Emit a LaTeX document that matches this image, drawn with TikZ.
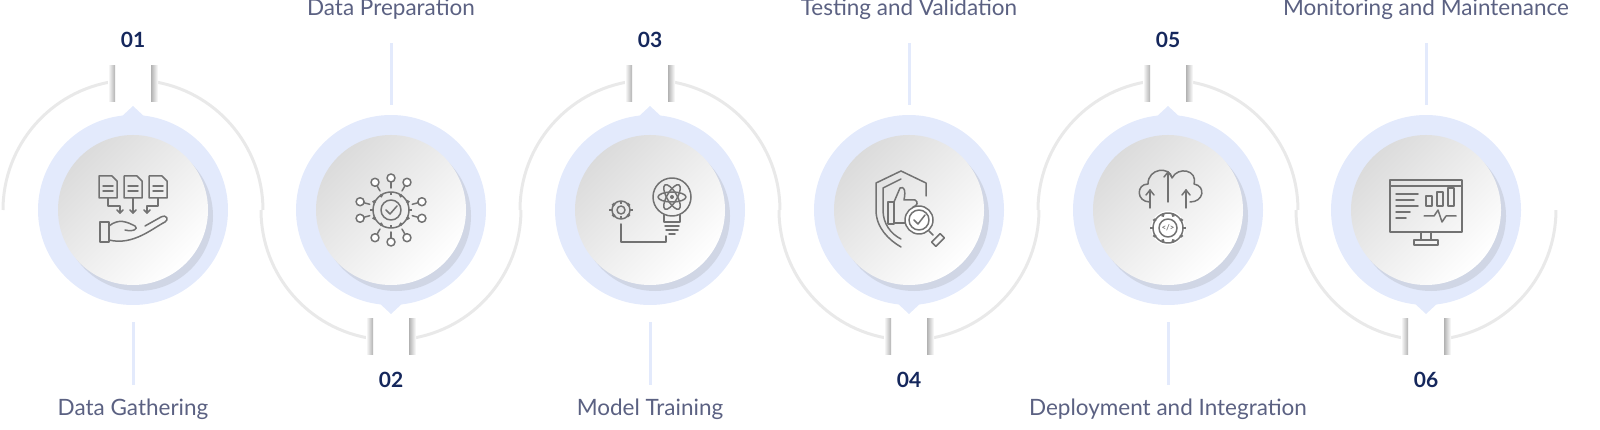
\documentclass[tikz,border=0pt]{standalone}
\usepackage{fontspec}
\setmainfont{Lato}
\usetikzlibrary{shadows}
\definecolor{ring}{HTML}{E3EAFC}
\definecolor{trk}{HTML}{E9E9E9}
\definecolor{navy}{HTML}{15275C}
\definecolor{lbl}{HTML}{5B6182}
\definecolor{ic}{HTML}{727272}
\tikzset{
  track/.style={draw=trk, line width=3pt},
  halo/.style={circle, fill=ring, minimum size=190pt, inner sep=0pt},
  disc/.style={circle, minimum size=150pt, inner sep=0pt, top color=gray!28, bottom color=white, shading angle=45,
     drop shadow={shadow xshift=5pt, shadow yshift=-6pt, opacity=0.15, fill=black!60}},
  stem/.style={draw=ring, line width=3pt},
  num/.style={font=\fontsize{21}{22}\selectfont\bfseries, text=navy},
  lab/.style={font=\fontsize{22.5}{24}\selectfont, text=lbl},
  icn/.style={draw=ic, line width=1.5pt, line cap=round, line join=round},
  edgeL/.style={left color=white, right color=black!30},
  edgeR/.style={left color=black!30, right color=white},
}
\newcommand{\gearshape}[3]{% center, radius, teeth
  \draw[icn] #1 circle (#2);
  \foreach \a in {0,...,#3}{\draw[icn, line width=2.6pt, line cap=butt] #1 ++({\a*360/#3}:#2) -- ++({\a*360/#3}:3pt);}
}
\begin{document}
\begin{tikzpicture}[x=1pt,y=-1pt]
\useasboundingbox (0,0) rectangle (1600,430);
% track
\foreach \i/\cx in {1/133,3/650,5/1168}{
  \draw[track] (\cx-130,210) arc[start angle=180,end angle=261.8,radius=130];
  \draw[track] (\cx+18.5,81.3) arc[start angle=278.2,end angle=360,radius=130];
  \fill[edgeL] (\cx-25,66) rectangle (\cx-18,102);
  \fill[edgeR] (\cx+18,66) rectangle (\cx+25,102);
}
\foreach \i/\cx in {2/391,4/909,6/1426}{
  \draw[track] (\cx-130,210) arc[start angle=180,end angle=98.2,radius=130];
  \draw[track] (\cx+18.5,338.7) arc[start angle=81.8,end angle=0,radius=130];
  \fill[edgeL] (\cx-25,318) rectangle (\cx-18,354);
  \fill[edgeR] (\cx+18,318) rectangle (\cx+25,354);
}
% circles
\foreach \i/\cx/\nm/\lb in {1/133/01/Data Gathering,3/650/03/Model Training,5/1168/05/Deployment and Integration}{
  \node[halo] (h\i) at (\cx,210) {};
  \fill[ring] (\cx-14,119) -- (\cx,106) -- (\cx+14,119) -- cycle;
  \node[disc] (c\i) at (\cx,210) {};
  \node[num] (n\i) at (\cx,40) {\nm};
  \coordinate (sa\i) at (\cx,322); \coordinate (sb\i) at (\cx,385);
  \draw[stem] (sa\i) -- (sb\i);
  \node[lab] (l\i) at (\cx,409) {\lb};
}
\foreach \i/\cx/\nm/\lb in {2/391/02/Data Preparation,4/909/04/Testing and Validation,6/1426/06/Monitoring and Maintenance}{
  \node[halo] (h\i) at (\cx,210) {};
  \fill[ring] (\cx-14,301) -- (\cx,314) -- (\cx+14,301) -- cycle;
  \node[disc] (c\i) at (\cx,210) {};
  \node[num] (n\i) at (\cx,380) {\nm};
  \coordinate (sa\i) at (\cx,43); \coordinate (sb\i) at (\cx,105);
  \draw[stem] (sa\i) -- (sb\i);
  \node[lab] (l\i) at (\cx,9) {\lb};
}
% icon 1
\begin{scope}[shift={(133,210)}]
  \foreach \dx in {-25,0,25}{
    \draw[icn] (\dx-9,-34) -- (\dx+4,-34) -- (\dx+9,-29) -- (\dx+9,-12) -- (\dx-9,-12) -- cycle;
    \draw[icn] (\dx-5,-24) -- (\dx+5,-24) (\dx-5,-19) -- (\dx+5,-19);
  }
  \draw[icn] (-25,-12) -- (-25,-4) -- (-13,-4) -- (-13,3);
  \draw[icn] (0,-12) -- (0,3);
  \draw[icn] (25,-12) -- (25,-4) -- (14,-4) -- (14,3);
  \foreach \dx in {-13,0,14}{\draw[icn] (\dx-3,0) -- (\dx,3) -- (\dx+3,0);}
  \draw[icn] (-33,12) rectangle (-24,32);
  \draw[icn] (-24,16) .. controls (-14,8) and (-6,12) .. (2,16) .. controls (6,19) and (0,22) .. (-8,20);
  \draw[icn] (-24,30) .. controls (0,36) and (20,18) .. (32,12) .. controls (36,10) and (34,4) .. (28,7) -- (12,16);
\end{scope}
% icon 2
\begin{scope}[shift={(391,210)}]
  \gearshape{(0,0)}{18}{12}
  \draw[icn] (0,0) circle (10);
  \draw[icn] (-5,0) -- (-1,4) -- (6,-4);
  \foreach \a in {-90,-60,-120,90,60,120,-15,15,165,195}{
    \draw[icn] (\a:22) -- (\a:28);
    \fill[white] (\a:32) circle (4); \draw[icn] (\a:32) circle (4);
  }
\end{scope}
% icon 3
\begin{scope}[shift={(650,210)}]
  \gearshape{(-29,0)}{9}{8}
  \draw[icn] (-29,0) circle (4);
  \draw[icn] (22,-13) circle (19);
  \draw[icn] (14,5) -- (14,12) -- (30,12) -- (30,5);
  \draw[icn] (15,16) -- (29,16) (16,20) -- (28,20) (19,24) -- (25,24);
  \draw[icn] (22,-13) ellipse (14 and 5);
  \draw[icn, rotate around={60:(22,-13)}] (22,-13) ellipse (14 and 5);
  \draw[icn, rotate around={-60:(22,-13)}] (22,-13) ellipse (14 and 5);
  \fill[ic] (22,-13) circle (2);
  \draw[icn] (-29,14) -- (-29,32) -- (16,32) -- (16,26);
\end{scope}
% icon 4
\begin{scope}[shift={(909,210)}]
  \draw[icn] (-8,-39) -- (-33,-27) -- (-33,0) .. controls (-33,18) and (-20,30) .. (-8,37);
  \draw[icn] (-8,-39) -- (17,-27) -- (17,-14);
  \draw[icn] (-8,-31) -- (-26,-22) -- (-26,0) .. controls (-26,14) and (-18,24) .. (-8,29);
  \draw[icn] (-21,-8) rectangle (-15,14);
  \draw[icn] (-15,-8) -- (-9,-22) .. controls (-5,-24) and (-3,-20) .. (-5,-10) -- (6,-10) .. controls (10,-8) and (8,-4) .. (4,-3);
  \draw[icn] (-15,13) -- (0,13);
  \fill[white] (10,10) circle (14);
  \draw[icn] (10,10) circle (14);
  \draw[icn] (10,10) circle (10);
  \draw[icn] (5,10) -- (9,14) -- (16,5);
  \draw[icn] (20,21) -- (24,25);
  \draw[icn, rotate around={45:(29,30)}] (23,27) rectangle (35,33);
\end{scope}
% icon 5
\begin{scope}[shift={(1168,210)}]
  \draw[icn] (-18,-8) .. controls (-32,-8) and (-32,-26) .. (-20,-26) .. controls (-20,-42) and (2,-44) .. (4,-32)
     .. controls (10,-44) and (30,-40) .. (26,-26) .. controls (38,-24) and (36,-8) .. (22,-8);
  \draw[icn] (0,-8) -- (0,-38); \draw[icn] (-4,-33) -- (0,-38) -- (4,-33);
  \draw[icn] (-18,-2) -- (-18,-20); \draw[icn] (-22,-15) -- (-18,-20) -- (-14,-15);
  \draw[icn] (18,-2) -- (18,-20); \draw[icn] (14,-15) -- (18,-20) -- (22,-15);
  \fill[white] (0,18) circle (17);
  \gearshape{(0,18)}{15}{10}
  \draw[icn] (0,18) circle (9);
  \node[text=ic, font=\fontsize{8}{8}\selectfont\bfseries, inner sep=0pt] (code) at (0,18) {</>};
\end{scope}
% icon 6
\begin{scope}[shift={(1426,210)}]
  \draw[icn] (-36,-30) rectangle (36,22);
  \draw[icn] (-36,-24) -- (36,-24);
  \draw[icn] (-30,-16) -- (-8,-16) (-30,-10) -- (-12,-10) (-30,-4) -- (-8,-4) (-30,2) -- (-16,2) (-30,8) -- (-20,8);
  \draw[icn] (0,-14) rectangle (6,-4) (11,-18) rectangle (17,-4) (22,-22) rectangle (28,-4);
  \draw[icn] (-2,6) -- (8,6) -- (12,0) -- (16,12) -- (20,6) -- (30,6);
  \draw[icn] (-5,22) -- (-5,30) (5,22) -- (5,30);
  \draw[icn] (-12,30) rectangle (12,35);
\end{scope}
\end{tikzpicture}
\end{document}
